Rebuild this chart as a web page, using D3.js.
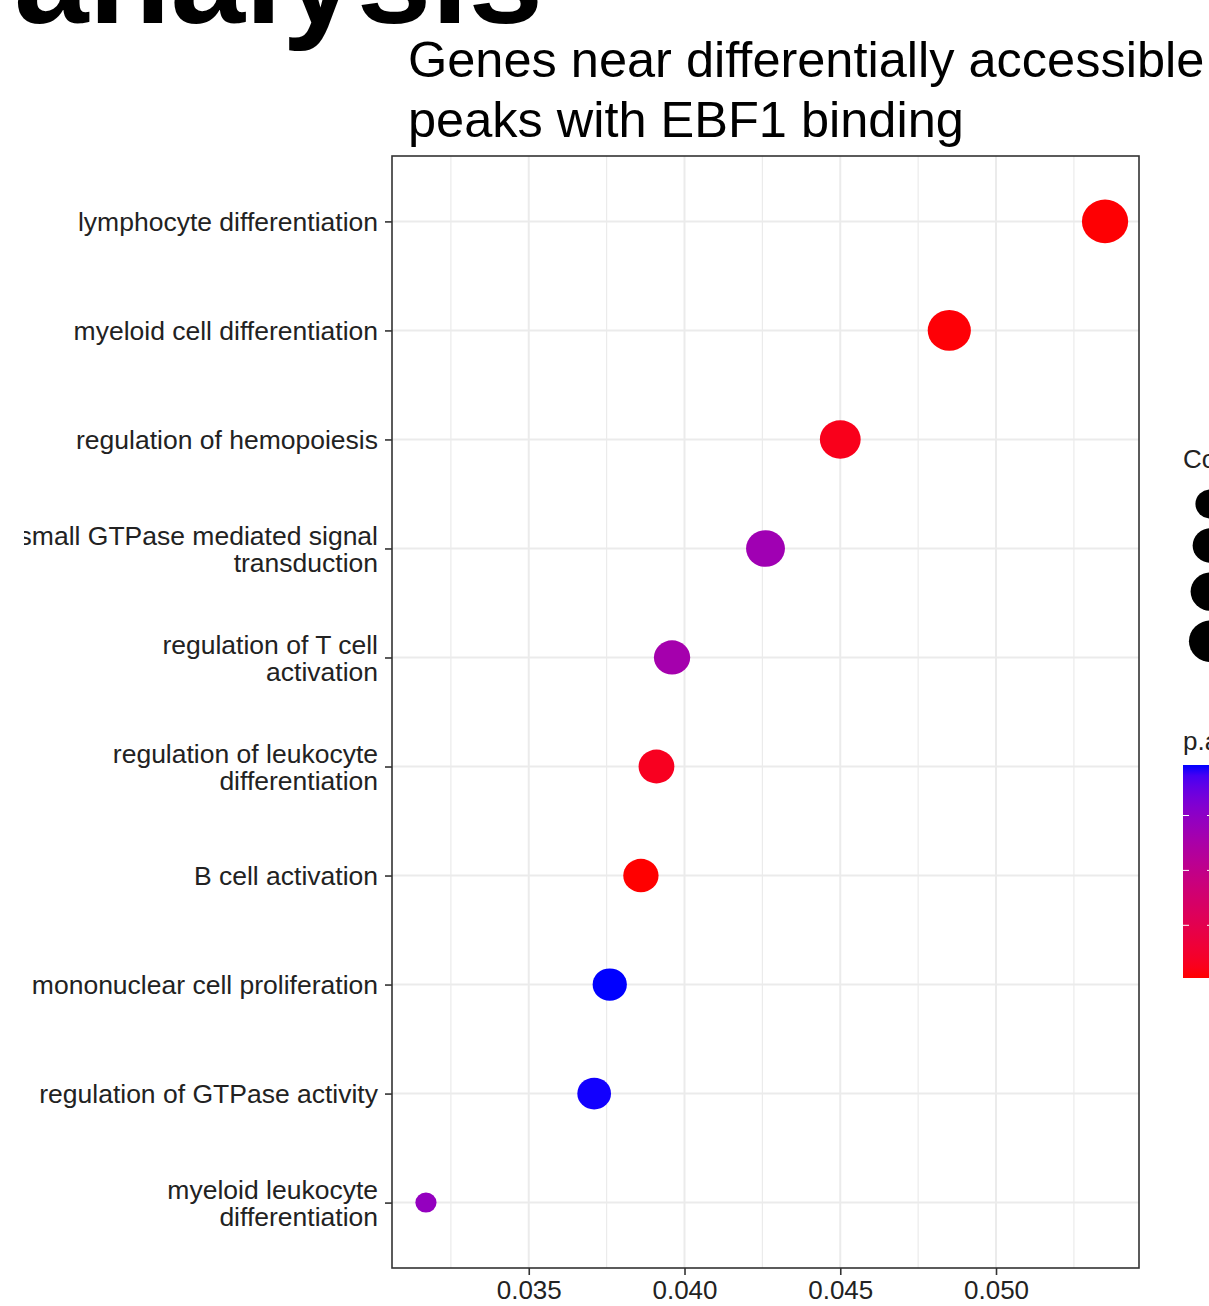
<!DOCTYPE html>
<html>
<head>
<meta charset="utf-8">
<script src="https://cdn.jsdelivr.net/npm/d3@7"></script>
<style>
  body { margin: 0; background: #fff; }
  svg { display: block; font-family: "Liberation Sans", Arial, sans-serif; }
</style>
</head>
<body>
<svg id="chart" width="1209" height="1306"></svg>
<script>
// GO terms, top to bottom
var terms = [
  "lymphocyte differentiation",
  "myeloid cell differentiation",
  "regulation of hemopoiesis",
  "small GTPase mediated signal\ntransduction",
  "regulation of T cell\nactivation",
  "regulation of leukocyte\ndifferentiation",
  "B cell activation",
  "mononuclear cell proliferation",
  "regulation of GTPase activity",
  "myeloid leukocyte\ndifferentiation"
];
var geneRatio = [0.0535, 0.0485, 0.0450, 0.0426, 0.0396, 0.0391, 0.0386, 0.0376, 0.0371, 0.0317];
var counts = [107, 97, 90, 85, 79, 78, 77, 75, 74, 63];
var pAdjust = [0.0003, 0.0004, 0.0012, 0.0135, 0.0130, 0.0015, 0.0002, 0.0196, 0.0195, 0.0145];
var xTicks = [0.035, 0.040, 0.045, 0.050];
var xMinorTicks = [0.0325, 0.0375, 0.0425, 0.0475, 0.0525];
var countBreaks = [70, 80, 90, 100];
var pBreaks = [0.005, 0.010, 0.015];

var W = 1209, H = 1306;
var MARGINS = { top: 156, right: 70, bottom: 38, left: 392 };
var panelRight = 1139;
var stretch = 1.06; // dots are a little wider than tall in the reference

var svg = d3.select('#chart');
var defs = svg.append('defs');

// the source picture was cropped on the left, cutting the first letter of one label
defs.append('clipPath').attr('id', 'leftcrop')
  .append('rect').attr('x', 24).attr('y', 0).attr('width', W).attr('height', H);

// big heading, mostly cut off at the top
svg.append('text')
  .attr('x', 14).attr('y', 23)
  .attr('font-size', 134).attr('font-weight', 'bold')
  .attr('fill', '#000')
  .text('analysis');

// title
['Genes near differentially accessible', 'peaks with EBF1 binding'].forEach(function (t, i) {
  svg.append('text')
    .attr('x', 408).attr('y', 77 + i * 60)
    .attr('font-size', 50.5).attr('fill', '#000')
    .text(t);
});

var data = terms.map(function (t, i) {
  return { term: t, ratio: geneRatio[i], count: counts[i], p: pAdjust[i] };
});

var xExt = d3.extent(geneRatio);
var pad = (xExt[1] - xExt[0]) * 0.05;
var x = d3.scaleLinear()
  .domain([xExt[0] - pad, xExt[1] + pad])
  .range([MARGINS.left, panelRight]);

var y = d3.scalePoint()
  .domain(terms)
  .range([MARGINS.top, H - MARGINS.bottom])
  .padding(0.6);

var cExt = d3.extent(counts);
var rMin = 10, rMax = 21.8;
function radius(c) {
  var t = (c - cExt[0]) / (cExt[1] - cExt[0]);
  return rMin + Math.sqrt(t) * (rMax - rMin);
}

var pExt = d3.extent(pAdjust);
var color = d3.scaleLinear()
  .domain(pExt)
  .range(['red', 'blue'])
  .interpolate(d3.interpolateLab);

// grid
var grid = svg.append('g');
grid.selectAll('.minor').data(xMinorTicks).enter().append('line')
  .attr('x1', function (d) { return x(d); }).attr('x2', function (d) { return x(d); })
  .attr('y1', MARGINS.top).attr('y2', H - MARGINS.bottom)
  .attr('stroke', '#ebebeb').attr('stroke-width', 1.2);
grid.selectAll('.majx').data(xTicks).enter().append('line')
  .attr('x1', function (d) { return x(d); }).attr('x2', function (d) { return x(d); })
  .attr('y1', MARGINS.top).attr('y2', H - MARGINS.bottom)
  .attr('stroke', '#ebebeb').attr('stroke-width', 2);
grid.selectAll('.majy').data(terms).enter().append('line')
  .attr('x1', MARGINS.left).attr('x2', panelRight)
  .attr('y1', function (d) { return y(d); }).attr('y2', function (d) { return y(d); })
  .attr('stroke', '#ebebeb').attr('stroke-width', 2);

// points
svg.append('g').selectAll('ellipse').data(data).enter().append('ellipse')
  .attr('cx', function (d) { return x(d.ratio); })
  .attr('cy', function (d) { return y(d.term); })
  .attr('rx', function (d) { return radius(d.count) * stretch; })
  .attr('ry', function (d) { return radius(d.count); })
  .attr('fill', function (d) { return color(d.p); });

// panel border
svg.append('rect')
  .attr('x', MARGINS.left).attr('y', MARGINS.top)
  .attr('width', panelRight - MARGINS.left)
  .attr('height', H - MARGINS.bottom - MARGINS.top)
  .attr('fill', 'none').attr('stroke', '#333').attr('stroke-width', 1.6);

// x axis
var xAxis = d3.axisBottom(x).tickValues(xTicks).tickSize(7).tickPadding(6)
  .tickFormat(d3.format('.3f'));
var gx = svg.append('g')
  .attr('transform', 'translate(0,' + (H - MARGINS.bottom) + ')')
  .call(xAxis);
gx.select('.domain').remove();
gx.selectAll('.tick line').attr('stroke', '#333').attr('stroke-width', 1.6);
gx.selectAll('.tick text').attr('font-size', 26).attr('fill', '#222')
  .attr('font-family', '"Liberation Sans", Arial, sans-serif');

// y axis
var yAxis = d3.axisLeft(y).tickSize(7).tickFormat('');
var gy = svg.append('g')
  .attr('clip-path', 'url(#leftcrop)')
  .append('g')
  .attr('transform', 'translate(' + MARGINS.left + ',0)')
  .call(yAxis);
gy.select('.domain').remove();
gy.selectAll('.tick line').attr('stroke', '#333').attr('stroke-width', 1.6);
gy.selectAll('.tick').each(function (d) {
  var lines = d.split('\n');
  var t = d3.select(this).append('text')
    .attr('x', -14).attr('text-anchor', 'end')
    .attr('font-size', 26.5).attr('fill', '#222')
    .attr('font-family', '"Liberation Sans", Arial, sans-serif');
  var lh = 27;
  lines.forEach(function (l, i) {
    t.append('tspan')
      .attr('x', -14)
      .attr('y', (i - (lines.length - 1) / 2) * lh)
      .attr('dy', '0.35em')
      .text(l);
  });
});

// size legend
var lg = svg.append('g');
lg.append('text').attr('x', 1183).attr('y', 468)
  .attr('font-size', 26).attr('fill', '#222').text('Count');
var ly = 504, prevR = null;
countBreaks.forEach(function (c) {
  var r = radius(c);
  if (prevR !== null) ly += prevR + r + 9.5;
  lg.append('ellipse')
    .attr('cx', 1211).attr('cy', ly)
    .attr('rx', r * stretch).attr('ry', r)
    .attr('fill', '#000');
  prevR = r;
});

// colour legend
lg.append('text').attr('x', 1183).attr('y', 750)
  .attr('font-size', 26).attr('fill', '#222').text('p.adjust');
var barTop = 765, barBottom = 978, barW = 30;
var grad = defs.append('linearGradient').attr('id', 'pgrad')
  .attr('x1', 0).attr('y1', 1).attr('x2', 0).attr('y2', 0);
d3.range(0, 1.0001, 0.05).forEach(function (t) {
  grad.append('stop').attr('offset', t)
    .attr('stop-color', color(pExt[0] + t * (pExt[1] - pExt[0])));
});
lg.append('rect').attr('x', 1183).attr('y', barTop)
  .attr('width', barW).attr('height', barBottom - barTop)
  .attr('fill', 'url(#pgrad)');
var py = d3.scaleLinear().domain(pExt).range([barBottom, barTop]);
pBreaks.forEach(function (b) {
  lg.append('line').attr('x1', 1183).attr('x2', 1189)
    .attr('y1', py(b)).attr('y2', py(b))
    .attr('stroke', '#fff').attr('stroke-width', 1);
  lg.append('line').attr('x1', 1183 + barW - 6).attr('x2', 1183 + barW)
    .attr('y1', py(b)).attr('y2', py(b))
    .attr('stroke', '#fff').attr('stroke-width', 1);
  lg.append('text').attr('x', 1183 + barW + 8).attr('y', py(b)).attr('dy', '0.35em')
    .attr('font-size', 22).attr('fill', '#222').text(d3.format('.3f')(b));
});
</script>
</body>
</html>
